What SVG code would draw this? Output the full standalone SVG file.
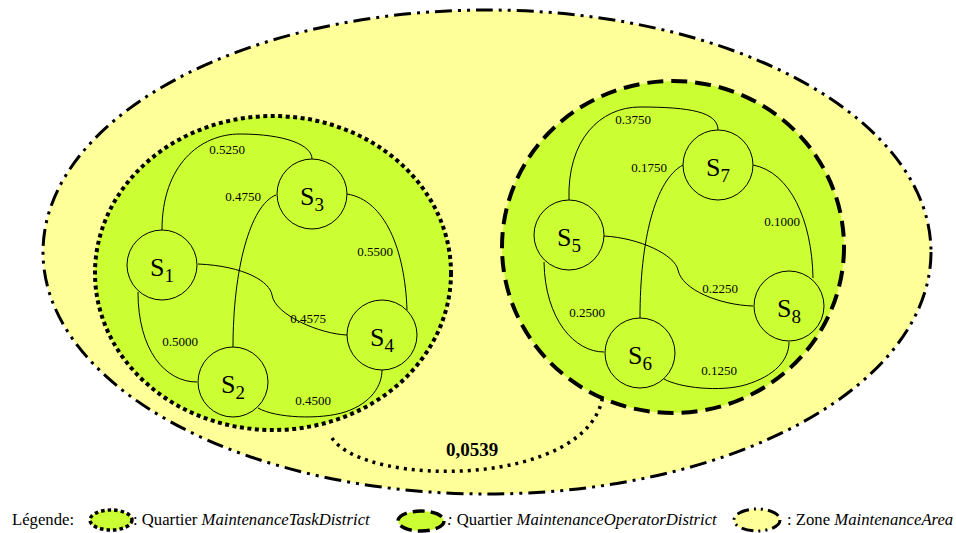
<svg xmlns="http://www.w3.org/2000/svg" width="956" height="533" viewBox="0 0 956 533">
<style>
.area{fill:#FFFF99;stroke:#000;stroke-width:3;stroke-dasharray:17 6 3 6 3 6}
.task{fill:#CCFF33;stroke:#000;stroke-width:4;stroke-dasharray:4 3.5}
.oper{fill:#CCFF33;stroke:#000;stroke-width:4;stroke-dasharray:16 8}
.node circle{fill:#CCFF33;stroke:#000;stroke-width:1}
.node text{font-family:"Liberation Serif",serif;font-size:26px;text-anchor:middle;fill:#000}
.node tspan{font-size:19px}
.edge{fill:none;stroke:#000;stroke-width:1}
.lbl{font-family:"Liberation Serif",serif;font-size:13px;text-anchor:middle;fill:#000}
.link{fill:none;stroke:#000;stroke-width:3.5;stroke-dasharray:3 5}
.leg{font-family:"Liberation Serif",serif;font-size:16.7px;fill:#000}
.it{font-style:italic}
</style>
<g id="zone">
<ellipse class="area" cx="487" cy="252" rx="444" ry="242"/>
</g>
<g id="district-task">
<ellipse class="task" cx="273" cy="273" rx="178" ry="157"/>
</g>
<g id="district-operator">
<ellipse class="oper" cx="673" cy="247" rx="171" ry="166"/>
</g>
<g id="connectors">
<path class="edge" d="M162,230 C162,165 200,134 240,134 C285,134 312,145 312,159"/>
<path class="edge" d="M233,347 C233,270 250,205 276,195"/>
<path class="edge" d="M198,264 C245,266 270,282 272,295 C275,315 320,334 347,335"/>
<path class="edge" d="M347,194 C385,200 405,250 407,310"/>
<path class="edge" d="M138,292 C138,350 165,382 197,382"/>
<path class="edge" d="M258,408 C275,418 320,420 345,412 C372,403 382,385 382,370"/>
<path class="edge" d="M569,200 C567,140 600,107 640,107 C690,107 718,112 718,130"/>
<path class="edge" d="M640,318 C640,240 655,180 683,165"/>
<path class="edge" d="M604,236 C640,238 675,255 678,270 C682,290 720,305 753,306"/>
<path class="edge" d="M753,165 C790,172 812,220 813,278"/>
<path class="edge" d="M544,262 C545,320 575,352 604,352"/>
<path class="edge" d="M664,379 C680,388 720,392 745,385 C775,376 789,360 789,342"/>
<path class="link" d="M332,438 C365,488 590,488 603,395"/>
<text class="lbl" x="227" y="154">0.5250</text>
<text class="lbl" x="243" y="201">0.4750</text>
<text class="lbl" x="308" y="323">0.4575</text>
<text class="lbl" x="375" y="256">0.5500</text>
<text class="lbl" x="180" y="346">0.5000</text>
<text class="lbl" x="313" y="405">0.4500</text>
<text class="lbl" x="633" y="124">0.3750</text>
<text class="lbl" x="649" y="172">0.1750</text>
<text class="lbl" x="720" y="293">0.2250</text>
<text class="lbl" x="782" y="226">0.1000</text>
<text class="lbl" x="587" y="317">0.2500</text>
<text class="lbl" x="719" y="375">0.1250</text>
<text x="472" y="456" style="font-family:'Liberation Serif',serif;font-size:19px;font-weight:bold;text-anchor:middle">0,0539</text>
</g>
<g id="S1" class="node"><circle cx="162" cy="265" r="35"/><text x="162" y="276">S<tspan dy="6">1</tspan></text></g>
<g id="S2" class="node"><circle cx="233" cy="382" r="35"/><text x="233" y="393">S<tspan dy="6">2</tspan></text></g>
<g id="S3" class="node"><circle cx="312" cy="194" r="35"/><text x="312" y="205">S<tspan dy="6">3</tspan></text></g>
<g id="S4" class="node"><circle cx="382" cy="335" r="35"/><text x="382" y="346">S<tspan dy="6">4</tspan></text></g>
<g id="S5" class="node"><circle cx="569" cy="235" r="35"/><text x="569" y="246">S<tspan dy="6">5</tspan></text></g>
<g id="S6" class="node"><circle cx="640" cy="353" r="35"/><text x="640" y="364">S<tspan dy="6">6</tspan></text></g>
<g id="S7" class="node"><circle cx="718" cy="165" r="35"/><text x="718" y="176">S<tspan dy="6">7</tspan></text></g>
<g id="S8" class="node"><circle cx="789" cy="306" r="35"/><text x="789" y="317">S<tspan dy="6">8</tspan></text></g>
<g id="legend">
<text class="leg" x="12" y="525">Légende:</text>
<ellipse class="task" cx="111" cy="520" rx="21" ry="10" style="stroke-width:3.5;stroke-dasharray:3.5 3"/>
<text class="leg" x="133" y="525">: Quartier <tspan class="it">MaintenanceTaskDistrict</tspan></text>
<ellipse class="oper" cx="421" cy="521" rx="23" ry="10" style="stroke-width:3.5;stroke-dasharray:12 6"/>
<text class="leg" x="447" y="525"><tspan class="it">:</tspan> Quartier <tspan class="it">MaintenanceOperatorDistrict</tspan></text>
<ellipse class="area" cx="757" cy="520" rx="23" ry="11" style="stroke-width:3;stroke-dasharray:12 5 2 5 2 5"/>
<text class="leg" x="787" y="525">: Zone <tspan class="it">MaintenanceArea</tspan></text>
</g>
</svg>
